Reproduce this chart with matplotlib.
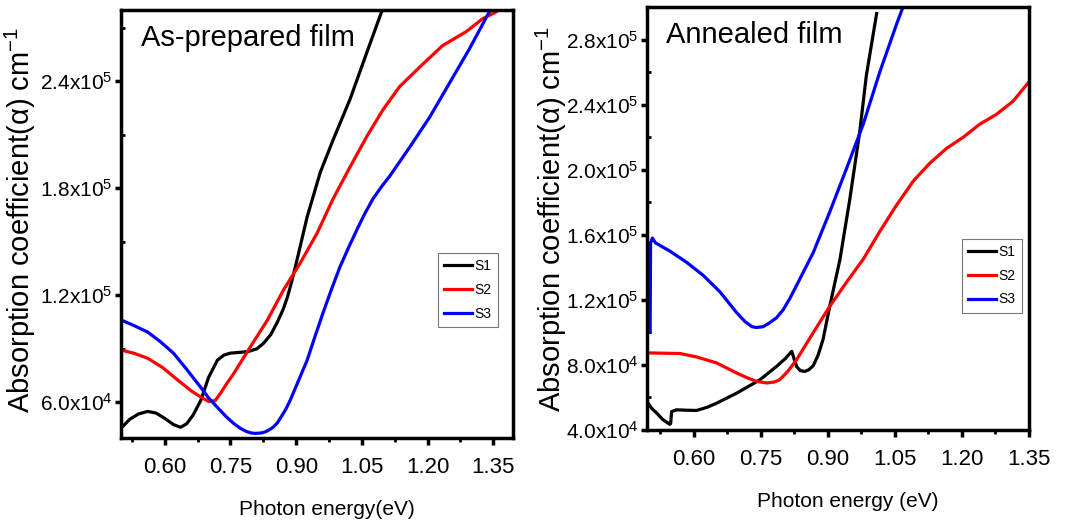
import matplotlib
matplotlib.use('Agg')
import matplotlib.pyplot as plt
from matplotlib.ticker import MultipleLocator, FuncFormatter

plt.rcParams['font.family'] = ['Liberation Sans', 'DejaVu Sans']
plt.rcParams['mathtext.fontset'] = 'custom'
plt.rcParams['mathtext.rm'] = 'Liberation Sans'
plt.rcParams['mathtext.it'] = 'Liberation Sans:italic'

# as-prepared film
ap_s1_x = [0.502, 0.52, 0.54, 0.561, 0.58, 0.60, 0.62, 0.636, 0.65, 0.665, 0.682, 0.70, 0.72, 0.735, 0.75, 0.77,
           0.791, 0.81, 0.825, 0.842, 0.857, 0.87, 0.88, 0.89, 0.902, 0.925, 0.955, 0.984, 1.023, 1.061, 1.095, 1.105]
ap_s1_y = [4.6e4, 5.05e4, 5.35e4, 5.49e4, 5.4e4, 5.1e4, 4.75e4, 4.6e4, 4.8e4, 5.3e4, 6.1e4, 7.4e4, 8.36e4, 8.65e4, 8.76e4,
           8.8e4, 8.85e4, 9.0e4, 9.3e4, 9.8e4, 1.05e5, 1.12e5, 1.19e5, 1.28e5, 1.4e5, 1.64e5, 1.89e5, 2.07e5, 2.3e5,
           2.56e5, 2.79e5, 2.85e5]
ap_s2_x = [0.502, 0.53, 0.561, 0.595, 0.63, 0.66, 0.682, 0.70, 0.715, 0.727, 0.74, 0.757, 0.795, 0.834, 0.871,
           0.909, 0.948, 0.984, 1.023, 1.061, 1.098, 1.136, 1.182, 1.234, 1.289, 1.325, 1.357, 1.37]
ap_s2_y = [8.92e4, 8.75e4, 8.47e4, 7.95e4, 7.24e4, 6.65e4, 6.3e4, 6.05e4, 6.1e4, 6.5e4, 7.0e4, 7.6e4, 9.1e4, 1.06e5,
           1.23e5, 1.38e5, 1.55e5, 1.74e5, 1.92e5, 2.09e5, 2.24e5, 2.37e5, 2.48e5, 2.6e5, 2.68e5, 2.75e5, 2.79e5, 2.82e5]
ap_s3_x = [0.502, 0.53, 0.561, 0.59, 0.62, 0.65, 0.682, 0.70, 0.72, 0.74, 0.757, 0.772, 0.785, 0.797, 0.807, 0.82,
           0.83, 0.84, 0.848, 0.857, 0.866, 0.876, 0.886, 0.905, 0.925, 0.943, 0.961, 0.98, 1.0, 1.02, 1.039, 1.057,
           1.075, 1.095, 1.114, 1.159, 1.205, 1.25, 1.295, 1.341, 1.35]
ap_s3_y = [1.06e5, 1.03e5, 9.94e4, 9.4e4, 8.75e4, 7.85e4, 6.84e4, 6.25e4, 5.72e4, 5.2e4, 4.82e4, 4.55e4, 4.38e4,
           4.28e4, 4.26e4, 4.28e4, 4.35e4, 4.48e4, 4.62e4, 4.85e4, 5.2e4, 5.6e4, 6.1e4, 7.2e4, 8.36e4, 9.7e4, 1.1e5,
           1.23e5, 1.36e5, 1.47e5, 1.57e5, 1.66e5, 1.74e5, 1.81e5, 1.87e5, 2.03e5, 2.2e5, 2.39e5, 2.58e5, 2.79e5, 2.85e5]

# annealed film
an_s1_x = [0.495, 0.505, 0.517, 0.53, 0.546, 0.548, 0.55, 0.561, 0.58, 0.606, 0.63, 0.651, 0.696, 0.748, 0.785, 0.805,
           0.819, 0.825, 0.83, 0.838, 0.848, 0.857, 0.867, 0.878, 0.889, 0.904, 0.927, 0.949, 0.971, 0.986, 1.009]
an_s1_y = [5.75e4, 5.35e4, 5.03e4, 4.65e4, 4.35e4, 4.4e4, 5.13e4, 5.24e4, 5.22e4, 5.2e4, 5.4e4, 5.65e4, 6.27e4, 7.09e4,
           7.91e4, 8.4e4, 8.84e4, 8.3e4, 7.9e4, 7.65e4, 7.6e4, 7.7e4, 7.95e4, 8.6e4, 9.56e4, 1.16e5, 1.45e5, 1.82e5,
           2.23e5, 2.58e5, 2.96e5]
an_s2_x = [0.495, 0.569, 0.606, 0.651, 0.696, 0.72, 0.74, 0.763, 0.78, 0.792, 0.81, 0.83, 0.867, 0.904, 0.942, 0.979,
           1.016, 1.053, 1.091, 1.128, 1.165, 1.203, 1.24, 1.277, 1.314, 1.35]
an_s2_y = [8.74e4, 8.7e4, 8.49e4, 8.12e4, 7.5e4, 7.2e4, 6.99e4, 6.89e4, 6.95e4, 7.09e4, 7.6e4, 8.33e4, 9.98e4, 1.16e5,
           1.31e5, 1.45e5, 1.62e5, 1.78e5, 1.93e5, 2.04e5, 2.13e5, 2.2e5, 2.28e5, 2.34e5, 2.42e5, 2.54e5]
an_s3_x = [0.502, 0.503, 0.507, 0.514, 0.546, 0.584, 0.621, 0.658, 0.696, 0.715, 0.73, 0.74, 0.755, 0.77, 0.785, 0.80,
           0.815, 0.83, 0.867, 0.904, 0.942, 0.979, 1.016, 1.053, 1.068]
an_s3_y = [1.0e5, 1.55e5, 1.58e5, 1.55e5, 1.5e5, 1.43e5, 1.35e5, 1.25e5, 1.12e5, 1.065e5, 1.035e5, 1.03e5, 1.035e5,
           1.06e5, 1.09e5, 1.14e5, 1.21e5, 1.29e5, 1.49e5, 1.74e5, 2.01e5, 2.28e5, 2.6e5, 2.89e5, 3.0e5]

labels = ['S1', 'S2', 'S3']
colors = ['black', 'red', 'blue']


def sci(v, pos):
    if v <= 0:
        return ''
    e = len(str(int(round(v)))) - 1
    m = v / 10 ** e
    return r'$\mathregular{%.1fx10^{%d}}$' % (m, e)


def setup(ax, xlim, ylim, ystep, title, xlabel, lx, ly, xly, leg):
    ax.set_xlim(*xlim)
    ax.set_ylim(*ylim)
    ax.xaxis.set_major_locator(MultipleLocator(0.15))
    ax.xaxis.set_minor_locator(MultipleLocator(0.075))
    ax.xaxis.set_major_formatter(FuncFormatter(lambda v, p: '%.2f' % v))
    ax.yaxis.set_major_locator(MultipleLocator(ystep))
    ax.yaxis.set_minor_locator(MultipleLocator(ystep / 2))
    ax.yaxis.set_major_formatter(FuncFormatter(sci))
    ax.tick_params(axis='x', which='major', direction='out', length=5, width=2.5, labelsize=16, pad=9)
    ax.tick_params(axis='x', which='minor', direction='out', length=3, width=2)
    ax.tick_params(axis='y', which='major', direction='out', length=4, width=2.5, labelsize=15, pad=2)
    ax.tick_params(axis='y', which='minor', direction='in', length=3, width=2)
    for s in ax.spines.values():
        s.set_linewidth(2.5)
    ax.text(0.05, 0.968, title, transform=ax.transAxes, fontsize=21, va='top', ha='left')
    ax.set_xlabel(xlabel, fontsize=15)
    ax.xaxis.set_label_coords(0.525, xly)
    ax.set_ylabel(r'Absorption coefficient(α) cm$^{-1}$', fontsize=21)
    ax.yaxis.set_label_coords(lx, ly)
    lg = ax.legend(loc='upper right', bbox_to_anchor=leg, fontsize=10, frameon=True, fancybox=False,
                   handlelength=2.0, handletextpad=0.2, labelspacing=0.7, borderpad=0.45, borderaxespad=0)
    lg.get_frame().set_edgecolor('#555555')
    lg.get_frame().set_linewidth(0.8)


fig = plt.figure(figsize=(10.68, 5.24), dpi=100)
ax1 = fig.add_axes([121 / 1068, 86 / 524, 392 / 1068, 428 / 524])
ax2 = fig.add_axes([647 / 1068, 94 / 524, 382 / 1068, 423 / 524])

for xs, ys, lab, c in zip([ap_s1_x, ap_s2_x, ap_s3_x], [ap_s1_y, ap_s2_y, ap_s3_y], labels, colors):
    ax1.plot(xs, ys, color=c, lw=2.3, label=lab)
for xs, ys, lab, c in zip([an_s1_x, an_s2_x, an_s3_x], [an_s1_y, an_s2_y, an_s3_y], labels, colors):
    ax2.plot(xs, ys, color=c, lw=2.3, label=lab)

setup(ax1, (0.50, 1.395), (4.0e4, 2.8e5), 6e4, 'As-prepared film', 'Photon energy(eV)',
      -0.212, 0.51, -0.145, (0.962, 0.432))
setup(ax2, (0.495, 1.35), (4.0e4, 3.0e5), 4e4, 'Annealed film', 'Photon energy (eV)',
      -0.205, 0.5, -0.147, (0.982, 0.452))

fig.savefig('out.png', dpi=100)
